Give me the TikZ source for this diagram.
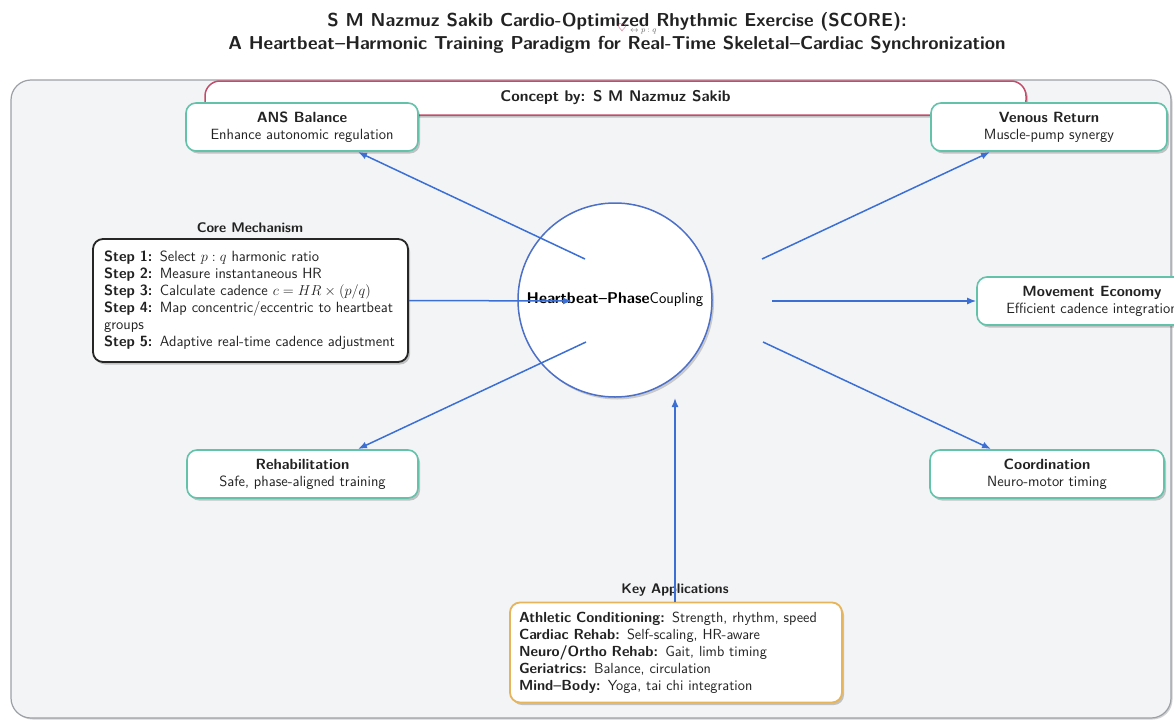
\documentclass[tikz,border=0pt]{standalone}
\usepackage{fontspec}
\usetikzlibrary{shadows,arrows.meta}

\definecolor{panelfill}{HTML}{F3F4F6}
\definecolor{panelline}{HTML}{9CA0A6}
\definecolor{tealline}{HTML}{62C2AA}
\definecolor{crimson}{HTML}{C24D6B}
\definecolor{flowblue}{HTML}{3B6FD4}
\definecolor{circline}{HTML}{4C70C8}
\definecolor{goldline}{HTML}{E6B45A}
\definecolor{inkgray}{HTML}{222222}

\tikzset{
  softshadow/.style={drop shadow={shadow xshift=2pt, shadow yshift=-2.5pt, opacity=.3, fill=black!70}},
  outcome/.style={draw=tealline, line width=1.6pt, fill=white, rounded corners=10pt,
    minimum height=48pt, align=center, inner sep=2pt, softshadow,
    font=\sffamily\fontsize{14.8}{17}\selectfont, text=inkgray},
  panelhead/.style={font=\sffamily\bfseries\fontsize{13.9}{15}\selectfont, text=inkgray},
  listbox/.style={fill=white, rounded corners=10pt, align=left,
    inner ysep=6pt, softshadow, text=inkgray},
  flow/.style={draw=flowblue, line width=1.5pt, -{Latex[length=9pt,width=7pt]}},
}

\begin{document}
\begin{tikzpicture}[x=1pt,y=-1pt]
\useasboundingbox (0,0) rectangle (1174,720);
\fill[white] (0,0) rectangle (1174,720);

% title
\node[font=\sffamily\bfseries\fontsize{18.7}{23}\selectfont, align=center, text=inkgray] (title) at (617,33)
  {S M Nazmuz Sakib Cardio-Optimized Rhythmic Exercise (SCORE):\\
   A Heartbeat--Harmonic Training Paradigm for Real-Time Skeletal--Cardiac Synchronization};
\node[text=crimson, inner sep=0pt, font=\fontsize{11}{11}\selectfont] (heart) at (622,28) {$\heartsuit$};
\node[text=black!60, inner sep=0pt, font=\fontsize{8}{8}\selectfont, anchor=west] (ratio) at (630,32) {$\leftrightarrow p:q$};

% background panel
\path[fill=panelfill, draw=panelline, line width=1.2pt, rounded corners=20pt,
      drop shadow={shadow xshift=1.5pt, shadow yshift=-1.5pt, opacity=.25, fill=black!70}]
  (11,80) rectangle (1171,718);

% concept banner
\node[draw=crimson, line width=1.5pt, fill=white, rounded corners=15pt, softshadow,
      minimum width=821pt, minimum height=34pt, inner sep=0pt,
      font=\sffamily\bfseries\fontsize{15.5}{17}\selectfont, text=inkgray]
  (concept) at (615.5,98) {Concept by: S M Nazmuz Sakib};

% central coupling node
\node[circle, draw=circline, line width=1.5pt, fill=white, minimum size=194pt, inner sep=0pt,
      drop shadow={shadow xshift=2pt, shadow yshift=-2.5pt, opacity=.25, fill=black!70},
      font=\sffamily\fontsize{15.6}{17}\selectfont, text=black]
  (hub) at (615,300) {\textbf{Heartbeat--Phase}Coupling};

% outcome boxes
\node[outcome, minimum width=232pt] (ans) at (302,127) {\textbf{ANS Balance}\\Enhance autonomic regulation};
\node[outcome, minimum width=236pt] (venous) at (1049,127) {\textbf{Venous Return}\\Muscle-pump synergy};
\node[outcome, minimum width=230pt] (economy) at (1092,301) {\textbf{Movement Economy}\\Efficient cadence integration};
\node[outcome, minimum width=231pt] (rehab) at (302.5,474) {\textbf{Rehabilitation}\\Safe, phase-aligned training};
\node[outcome, minimum width=234pt] (coord) at (1047,474) {\textbf{Coordination}\\Neuro-motor timing};

% core mechanism
\node[panelhead] (corehead) at (250,228) {Core Mechanism};
\node[listbox, draw=black!85, line width=1.8pt, text width=293pt, inner xsep=11pt,
      minimum height=123pt, font=\sffamily\fontsize{14.8}{17}\selectfont]
  (core) at (250.5,300.5)
  {\textbf{Step 1:} Select $p:q$ harmonic ratio\\
   \textbf{Step 2:} Measure instantaneous HR\\
   \textbf{Step 3:} Calculate cadence $c = HR \times (p/q)$\\
   \textbf{Step 4:} Map concentric/eccentric to heartbeat\\
   groups\\
   \textbf{Step 5:} Adaptive real-time cadence adjustment};

% key applications
\node[panelhead] (keyhead) at (675,590) {Key Applications};
\node[listbox, draw=goldline, line width=1.8pt, text width=314pt, inner xsep=9pt,
      minimum height=100pt, font=\sffamily\fontsize{14.6}{17}\selectfont]
  (apps) at (676,652.5)
  {\textbf{Athletic Conditioning:} Strength, rhythm, speed\\
   \textbf{Cardiac Rehab:} Self-scaling, HR-aware\\
   \textbf{Neuro/Ortho Rehab:} Gait, limb timing\\
   \textbf{Geriatrics:} Balance, circulation\\
   \textbf{Mind--Body:} Yoga, tai chi integration};

% connector end points around the hub
\coordinate (fromNW) at (585,259);
\coordinate (fromNE) at (762,259);
\coordinate (fromE)  at (772,301);
\coordinate (fromSE) at (763,342);
\coordinate (fromSW) at (586,342);
\coordinate (intoW)  at (572,301);
\coordinate (intoS)  at (675,398);
\coordinate (tipANS) at (358,152);
\coordinate (tipVen) at (990,152);
\coordinate (tipReh) at (358,449);
\coordinate (tipCoo) at (991,449);

% connectors
\draw[flow] (fromNW) -- (tipANS);
\draw[flow] (fromNE) -- (tipVen);
\draw[flow] (fromE) -- (economy.west);
\draw[flow] (fromSE) -- (tipCoo);
\draw[flow] (fromSW) -- (tipReh);
\draw[flow] (core.east) -- (intoW);
\draw[flow] (apps.north -| intoS) -- (intoS);
\end{tikzpicture}
\end{document}
